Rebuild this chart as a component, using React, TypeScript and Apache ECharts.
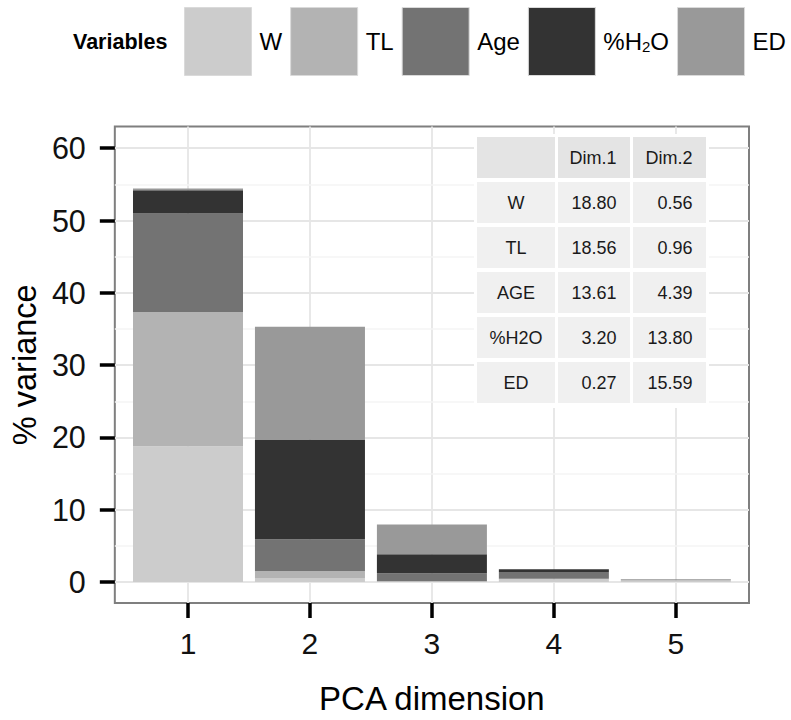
import React, { useEffect, useRef } from 'react';
import * as echarts from 'echarts';

// PCA dimensions on the x axis
const dims = [1, 2, 3, 4, 5];

// % of total variance explained by each variable in each dimension
const W = [18.8, 0.56, 0.04, 0.35, 0.2];
const TL = [18.56, 0.96, 0.1, 0.1, 0.15];
const AGE = [13.61, 4.39, 1.1, 0.95, 0.02];
const H2O = [3.2, 13.8, 2.62, 0.37, 0.02];
const ED = [0.27, 15.59, 4.12, 0.02, 0.02];

const variableNames = ['W', 'TL', 'Age', '%H2O', 'ED'];
const tableRowNames = ['W', 'TL', 'AGE', '%H2O', 'ED'];
const tableColumns = ['Dim.1', 'Dim.2'];

const yTicks = [0, 10, 20, 30, 40, 50, 60];
const yMinorTicks = [5, 15, 25, 35, 45, 55];
const xTicks = [1, 2, 3, 4, 5];

const FONT = '"Liberation Sans", Arial, Helvetica, sans-serif';
const seriesValues = [W, TL, AGE, H2O, ED];
const fills = ['#cccccc', '#b3b3b3', '#737373', '#333333', '#999999'];

function buildTable(): any[] {
  const els: any[] = [];
  const colX = [477, 558, 633];
  const colW = [78, 72, 73];
  const rowH = 41;
  const rowStep = 45;
  const top0 = 137;
  els.push({
    type: 'rect',
    shape: { x: 474, y: 134, width: 235, height: 274 },
    style: { fill: '#ffffff' },
    z: 50,
  });
  const header = ['', ...tableColumns];
  const rows = tableRowNames.map((n, i) => [
    n,
    seriesValues[i][0].toFixed(2),
    seriesValues[i][1].toFixed(2),
  ]);
  const all = [header, ...rows];
  all.forEach((row, r) => {
    const y = top0 + r * rowStep;
    row.forEach((txt, c) => {
      els.push({
        type: 'rect',
        shape: { x: colX[c], y, width: colW[c], height: rowH },
        style: { fill: r === 0 ? '#e4e4e4' : '#f0f0f0' },
        z: 51,
      });
      if (txt) {
        const centered = c === 0;
        els.push({
          type: 'text',
          x: centered ? colX[c] + colW[c] / 2 : colX[c] + colW[c] - 13.5,
          y: y + rowH / 2,
          style: {
            text: txt,
            fontSize: 18,
            fontFamily: FONT,
            fill: '#1a1a1a',
            align: centered ? 'center' : 'right',
            verticalAlign: 'middle',
          },
          z: 52,
        });
      }
    });
  });
  return els;
}

export default function App() {
  const ref = useRef<HTMLDivElement>(null);

  useEffect(() => {
    const chart = echarts.init(ref.current!, null, { renderer: 'svg' });

    // value first so the stack accumulates along y; dimension goes to x
    const barSeries = variableNames.map((name, i) => ({
      name,
      type: 'bar',
      stack: 'variance',
      barWidth: 110,
      z: 2,
      itemStyle: { color: fills[i] },
      encode: { x: 1, y: 0 },
      data: dims.map((d, j) => [seriesValues[i][j], d]),
    }));

    const option: any = {
      animation: false,
      textStyle: { fontFamily: FONT },
      legend: {
        data: variableNames,
        left: 184,
        top: 7,
        width: 640,
        padding: 0,
        itemWidth: 67,
        itemHeight: 68,
        itemGap: 8,
        icon: 'rect',
        selectedMode: false,
        itemStyle: { borderColor: '#dadada', borderWidth: 1 },
        formatter: (name: string) =>
          name === '%H2O' ? '{n|%H}{s|2}{n|O}' : `{n|${name}}`,
        textStyle: {
          fontSize: 24,
          color: '#000',
          padding: [0, 0, 0, 3],
          rich: {
            n: { fontSize: 24, lineHeight: 28, color: '#000', fontFamily: FONT },
            s: {
              fontSize: 15,
              lineHeight: 18,
              padding: [10, 0, 0, 0],
              color: '#000',
              fontFamily: FONT,
            },
          },
        },
      },
      grid: {
        left: 114,
        right: 42,
        top: 126.5,
        bottom: 115,
        show: true,
        borderColor: '#7f7f7f',
        borderWidth: 2,
        backgroundColor: 'transparent',
      },
      xAxis: {
        type: 'value',
        min: 0.4,
        max: 5.6,
        name: 'PCA dimension',
        nameLocation: 'middle',
        nameGap: 79,
        nameTextStyle: { fontSize: 33, color: '#000', fontFamily: FONT },
        axisLine: { show: false, onZero: false },
        axisTick: {
          show: true,
          length: 15,
          customValues: xTicks,
          lineStyle: { color: '#000', width: 3.5 },
        },
        axisLabel: {
          customValues: xTicks,
          fontSize: 30,
          color: '#111',
          margin: 25,
        },
        splitLine: { show: true, lineStyle: { color: '#e6e6e6', width: 1.8 } },
      },
      yAxis: {
        type: 'value',
        min: -2.89,
        max: 63,
        name: '% variance',
        nameLocation: 'middle',
        nameGap: 72,
        nameTextStyle: { fontSize: 32.5, color: '#000', fontFamily: FONT },
        axisLine: { show: false, onZero: false },
        axisTick: {
          show: true,
          length: 15,
          customValues: yTicks,
          lineStyle: { color: '#000', width: 3.5 },
        },
        axisLabel: {
          customValues: yTicks,
          fontSize: 30.5,
          color: '#111',
          margin: 29,
        },
        splitLine: { show: true, lineStyle: { color: '#e6e6e6', width: 1.8 } },
      },
      series: [
        ...barSeries,
        {
          type: 'line',
          data: [],
          silent: true,
          markLine: {
            silent: true,
            symbol: 'none',
            z: 1,
            label: { show: false },
            lineStyle: { color: '#f5f5f5', width: 1.5, type: 'solid' },
            data: yMinorTicks.map((v) => ({ yAxis: v })),
          },
        },
      ],
      graphic: [
        {
          type: 'text',
          x: 73,
          y: 42,
          style: {
            text: 'Variables',
            fontSize: 21.5,
            fontWeight: 'bold',
            fontFamily: FONT,
            fill: '#000',
            verticalAlign: 'middle',
          },
        },
        ...buildTable(),
      ],
    };

    chart.setOption(option);
    return () => chart.dispose();
  }, []);

  return (
    <div
      ref={ref}
      style={{ position: 'absolute', left: 0, top: 0, width: 791, height: 720 }}
    />
  );
}
